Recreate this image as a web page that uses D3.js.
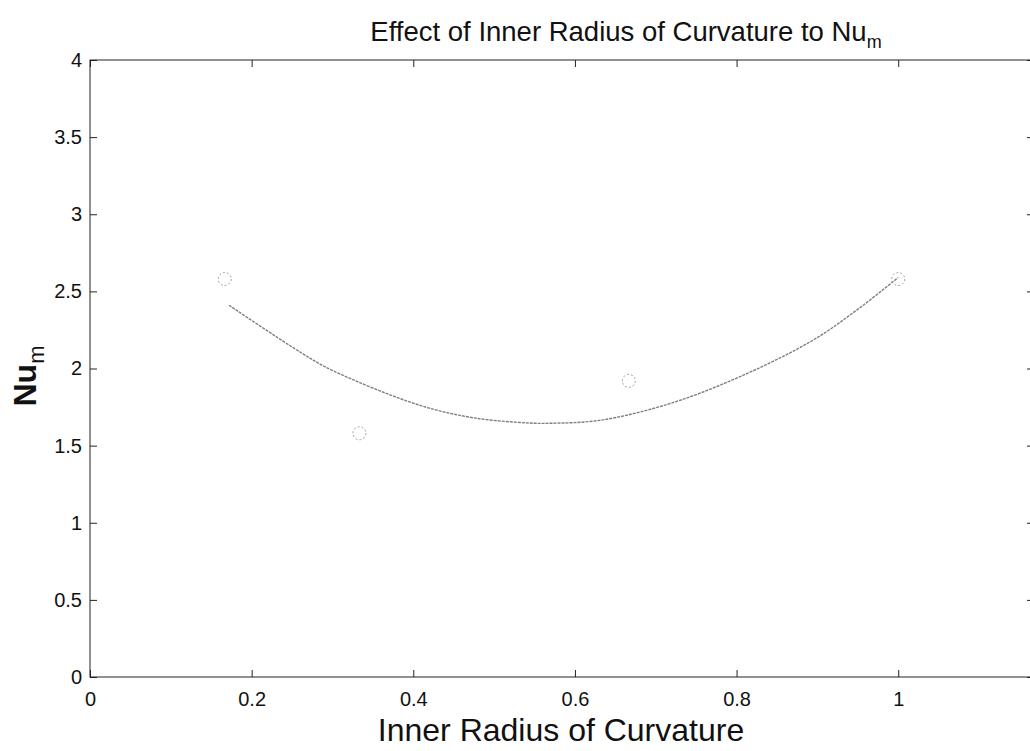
<!DOCTYPE html>
<html>
<head>
<meta charset="utf-8">
<script src="https://cdn.jsdelivr.net/npm/d3@7"></script>
<style>
  html, body { margin: 0; padding: 0; background: #fff; }
  svg { display: block; font-family: "Liberation Sans", Arial, sans-serif; }
</style>
</head>
<body>
<svg id="chart" width="1030" height="751"></svg>
<script>
// Measured Nu_m for each inner radius of curvature
const radiusValues = [1 / 6, 1 / 3, 2 / 3, 1.0];
const nuValues = [2.58, 1.58, 1.92, 2.58];

// Quadratic trend line, sampled along the fitted curve
const trendX = [0.172, 0.262, 0.299, 0.406, 0.475, 0.542, 0.570, 0.632, 0.722, 0.814, 0.895, 0.949, 1.0];
const trendY = [2.41, 2.10, 1.99, 1.765, 1.68, 1.647, 1.645, 1.665, 1.78, 1.97, 2.185, 2.38, 2.59];

// Axis ticks
const xTicks = [0, 0.2, 0.4, 0.6, 0.8, 1];
const xTickLabels = ["0", "0.2", "0.4", "0.6", "0.8", "1"];
const yTicks = [0, 0.5, 1, 1.5, 2, 2.5, 3, 3.5, 4];
const yTickLabels = ["0", "0.5", "1", "1.5", "2", "2.5", "3", "3.5", "4"];

const svg = d3.select("#chart");
const plotLeft = 90, plotRight = 1034, plotTop = 60, plotBottom = 677;
const fontFamily = '"Liberation Sans", Arial, sans-serif';

const x = d3.scaleLinear().domain([0, 1.168]).range([plotLeft, plotRight]);
const y = d3.scaleLinear().domain([0, 4]).range([plotBottom, plotTop]);

// Axes box with inward ticks on all four sides (MATLAB style)
const tickLen = 7;
const axisStyle = g => {
  g.attr("font-family", fontFamily).attr("font-size", 20);
  g.select(".domain").remove();
  g.selectAll("line").attr("stroke", "#222").attr("stroke-width", 1);
  g.selectAll("text").attr("fill", "#111").attr("font-size", 20);
};

svg.append("g")
  .attr("transform", `translate(0,${plotBottom})`)
  .call(d3.axisBottom(x).tickValues(xTicks).tickSize(-tickLen).tickPadding(15)
    .tickFormat((d, i) => xTickLabels[i]))
  .call(axisStyle);

svg.append("g")
  .attr("transform", `translate(0,${plotTop})`)
  .call(d3.axisTop(x).tickValues(xTicks).tickSize(-tickLen).tickFormat(""))
  .call(axisStyle);

svg.append("g")
  .attr("transform", `translate(${plotLeft},0)`)
  .call(d3.axisLeft(y).tickValues(yTicks).tickSize(-tickLen).tickPadding(8)
    .tickFormat((d, i) => yTickLabels[i]))
  .call(axisStyle);

svg.append("g")
  .attr("transform", `translate(${plotRight},0)`)
  .call(d3.axisRight(y).tickValues(yTicks).tickSize(-tickLen).tickFormat(""))
  .call(axisStyle);

svg.append("rect")
  .attr("x", plotLeft).attr("y", plotTop)
  .attr("width", plotRight - plotLeft).attr("height", plotBottom - plotTop)
  .attr("fill", "none").attr("stroke", "#222").attr("stroke-width", 1);

// Trend curve
const line = d3.line()
  .x((d, i) => x(trendX[i]))
  .y((d, i) => y(trendY[i]))
  .curve(d3.curveCatmullRom.alpha(0.5));

svg.append("path")
  .datum(trendX)
  .attr("d", line)
  .attr("fill", "none")
  .attr("stroke", "#808080")
  .attr("stroke-width", 1.4)
  .attr("stroke-dasharray", "3,1");

// Data markers
svg.append("g")
  .selectAll("circle")
  .data(radiusValues)
  .join("circle")
  .attr("cx", d => x(d))
  .attr("cy", (d, i) => y(nuValues[i]))
  .attr("r", 6.5)
  .attr("fill", "none")
  .attr("stroke", "#a0a0a0")
  .attr("stroke-width", 1)
  .attr("stroke-dasharray", "2,2");

// Title
const title = svg.append("text")
  .attr("x", 626).attr("y", 41)
  .attr("text-anchor", "middle")
  .attr("font-size", 27.5)
  .attr("fill", "#111");
title.append("tspan").text("Effect of Inner Radius of Curvature to Nu");
title.append("tspan").attr("font-size", 18).attr("dy", 7).text("m");

// X label
svg.append("text")
  .attr("x", 561).attr("y", 741)
  .attr("text-anchor", "middle")
  .attr("font-size", 32)
  .attr("fill", "#111")
  .text("Inner Radius of Curvature");

// Y label
const ylab = svg.append("text")
  .attr("transform", "translate(36,376) rotate(-90)")
  .attr("text-anchor", "middle")
  .attr("font-size", 32)
  .attr("font-weight", "bold")
  .attr("fill", "#111");
ylab.append("tspan").text("Nu");
ylab.append("tspan").attr("font-size", 22).attr("font-weight", "normal").attr("dy", 8).text("m");
</script>
</body>
</html>
